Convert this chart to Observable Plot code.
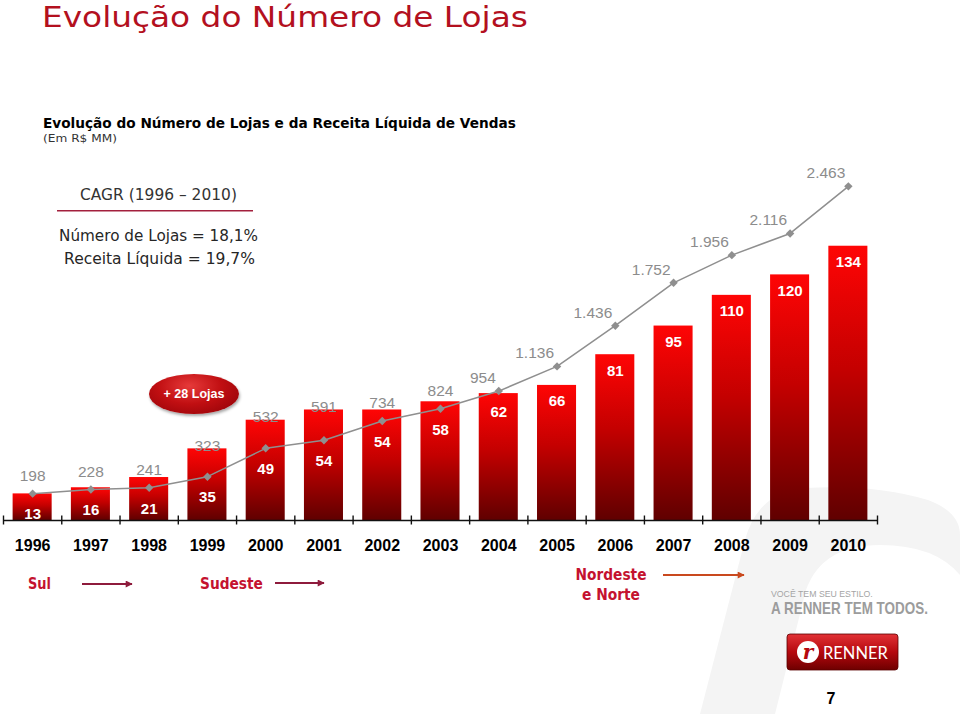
<!DOCTYPE html>
<html><head><meta charset="utf-8">
<script src="https://cdn.jsdelivr.net/npm/d3@7"></script>
<script src="https://cdn.jsdelivr.net/npm/@observablehq/plot@0.6"></script>
<style>
html,body{margin:0;padding:0;background:#fff;}
#page{position:relative;width:960px;height:714px;overflow:hidden;}
#wm,#deco{position:absolute;left:0;top:0;}
#chart{position:absolute;left:0;top:170px;}
#deco{pointer-events:none;}
#badge{position:absolute;left:149px;top:374px;width:90px;height:40px;border-radius:50%;
  background:radial-gradient(ellipse at 45% 30%, #e63a3a 0%, #c10f12 45%, #8a0006 100%);
  box-shadow:1px 2px 3px rgba(0,0,0,0.35);color:#fff;font:bold 12.5px "Liberation Sans",Arial,sans-serif;
  display:flex;align-items:center;justify-content:center;white-space:nowrap;}
#chart g[aria-label="x-axis tick label"]{font-size:16px;font-weight:bold;fill:#000;}
</style></head><body><div id="page">
<svg id="wm" width="960" height="714">
  <path d="M700,714 L745,540 Q758,492 805,488 Q875,484 928,500 Q960,512 960,535 L960,575 Q935,545 880,545 Q822,545 806,590 L775,714 Z" fill="#f4f4f4"/>
</svg>
<div id="chart"></div>
<div id="badge">+ 28 Lojas</div>
<svg id="deco" width="960" height="714"></svg>
</div>
<script>
// ---- data ----
const years   = [1996,1997,1998,1999,2000,2001,2002,2003,2004,2005,2006,2007,2008,2009,2010];
const stores  = [13,16,21,35,49,54,54,58,62,66,81,95,110,120,134];
const revenue = [198,228,241,323,532,591,734,824,954,1136,1436,1752,1956,2116,2463];
const storeAxisMax = 171;     // left (stores) axis top
const revenueAxisMax = 2580;  // right (revenue, R$ MM) axis top
const regions = ["Sul", "Sudeste", "Nordeste", "e Norte"];

// ---- layout / style ----
const W = 960, H = 400, mB = 50, mL = 3, mR = 83, mT = 0;
const pxPerStore = (H - mB - mT) / storeAxisMax;
const barHalf = 0.335;
const leftLabelFrom = 2004;
const ptBR = d3.formatLocale({decimal: ",", thousands: ".", grouping: [3], currency: ["R$", ""]});
const fmt = ptBR.format(",");

const data = years.map((year, i) => ({
  year, stores: stores[i], revenue: revenue[i],
  revS: revenue[i] * storeAxisMax / revenueAxisMax
}));
const bounds = years.map(y => y - 0.5).concat([years[years.length - 1] + 0.5]);
const u = v => v / pxPerStore; // pixels -> store units

const chart = Plot.plot({
  width: W, height: H, marginTop: mT, marginBottom: mB, marginLeft: mL, marginRight: mR,
  style: {fontFamily: "'Liberation Sans', Arial, sans-serif", background: "transparent", overflow: "visible"},
  x: {domain: [years[0] - 0.5, years[years.length - 1] + 0.5], label: null},
  y: {domain: [0, storeAxisMax], axis: null},
  marks: [
    Plot.rectY(data, {x1: d => d.year - barHalf, x2: d => d.year + barHalf, y1: 0, y2: "stores", fill: "url(#barGrad)"}),
    Plot.ruleY([0], {stroke: "#111", strokeWidth: 1.6}),
    Plot.ruleX(bounds, {x: d => d, y1: -u(4.5), y2: u(4.5), stroke: "#111", strokeWidth: 1.4}),
    Plot.axisX(years, {tickSize: 0, tickPadding: 19, tickFormat: d => String(d), fontSize: 16, fontWeight: "bold", color: "#000", label: null}),
    Plot.line(data, {x: "year", y: "revS", stroke: "#8f8f8f", strokeWidth: 1.5}),
    Plot.dot(data, {x: "year", y: "revS", symbol: "diamond2", r: 3.8, fill: "#8f8f8f", stroke: "none"}),
    Plot.text(data, {x: "year", y: d => Math.min(d.stores - u(16), d.revS - u(21)), text: d => String(d.stores),
      fill: "#fff", fontWeight: "bold", fontSize: 15}),
    Plot.text(data.filter(d => d.year < leftLabelFrom), {x: "year", y: d => Math.max(d.revS + u(18), d.stores + u(3)),
      text: d => fmt(d.revenue), fill: "#8c8c8c", fontSize: 15.5}),
    Plot.text(data.filter(d => d.year >= leftLabelFrom), {x: "year", y: d => d.revS + u(13),
      text: d => fmt(d.revenue), fill: "#8c8c8c", fontSize: 15.5, textAnchor: "end", dx: -3})
  ]
});
const defs = d3.select(chart).insert("defs", ":first-child");
const lg = defs.append("linearGradient").attr("id", "barGrad").attr("x1", 0).attr("y1", 0).attr("x2", 0).attr("y2", 1);
lg.append("stop").attr("offset", "0%").attr("stop-color", "#ff0505");
lg.append("stop").attr("offset", "45%").attr("stop-color", "#c40000");
lg.append("stop").attr("offset", "100%").attr("stop-color", "#600000");
document.getElementById("chart").appendChild(chart);

// ---- decorations / texts ----
const deco = d3.select("#deco");
const dd = deco.append("defs");
const bg = dd.append("linearGradient").attr("id", "btnGrad").attr("x1", 0).attr("y1", 0).attr("x2", 0).attr("y2", 1);
bg.append("stop").attr("offset", "0%").attr("stop-color", "#e23236");
bg.append("stop").attr("offset", "50%").attr("stop-color", "#b5080e");
bg.append("stop").attr("offset", "100%").attr("stop-color", "#6e0000");
function mk(id, color) {
  dd.append("marker").attr("id", id).attr("viewBox", "0 0 10 10").attr("refX", 9).attr("refY", 5)
    .attr("markerWidth", 9).attr("markerHeight", 7).attr("markerUnits", "userSpaceOnUse").attr("orient", "auto")
    .append("path").attr("d", "M0,0 L10,5 L0,10 Z").attr("fill", color);
}
mk("ah1", "#8e1b3c"); mk("ah2", "#c9491e");
// text helper: optionally fit to a target width by horizontal scaling about the anchor x
function txt(s, x, y, o) {
  const t = deco.append("text").attr("x", x).attr("y", y).text(s)
    .attr("font-family", o.ff || "'DejaVu Sans', sans-serif").attr("font-size", o.fs)
    .attr("fill", o.fill || "#000");
  if (o.fw) t.attr("font-weight", o.fw);
  if (o.anchor) t.attr("text-anchor", o.anchor);
  if (o.len) {
    const w = t.node().getComputedTextLength();
    if (w > 0) {
      const s = o.len / w;
      t.attr("transform", `translate(${x},${y}) scale(${s},1) translate(${-x},${-y})`);
    }
  }
  return t;
}
txt("Evolução do Número de Lojas", 42, 27.5, {fs: 29, fill: "#b3101e", len: 486});
txt("Evolução do Número de Lojas e da Receita Líquida de Vendas", 43, 128.5, {fs: 14, fw: "bold", fill: "#000", len: 473});
txt("(Em R$ MM)", 43, 142, {fs: 11, fill: "#333", len: 74});
txt("CAGR (1996 – 2010)", 158.5, 200, {fs: 15, fill: "#333", anchor: "middle", len: 157});
deco.append("line").attr("x1", 57).attr("x2", 253).attr("y1", 210.7).attr("y2", 210.7).attr("stroke", "#a3203d").attr("stroke-width", 1.5);
txt("Número de Lojas = 18,1%", 158.5, 241, {fs: 15.5, fill: "#262626", anchor: "middle", len: 199});
txt("Receita Líquida = 19,7%", 159.5, 264, {fs: 15.5, fill: "#262626", anchor: "middle", len: 191});

const red = "#c4122f";
txt(regions[0], 28, 589, {fs: 15, fw: "bold", fill: red, len: 23});
txt(regions[1], 200, 589, {fs: 15, fw: "bold", fill: red, len: 63});
txt(regions[2], 611, 580, {fs: 15, fw: "bold", fill: red, anchor: "middle", len: 71});
txt(regions[3], 611, 600, {fs: 15, fw: "bold", fill: red, anchor: "middle", len: 58});
deco.append("line").attr("x1", 82).attr("x2", 132).attr("y1", 584).attr("y2", 584).attr("stroke", "#8e1b3c").attr("stroke-width", 1.8).attr("marker-end", "url(#ah1)");
deco.append("line").attr("x1", 275).attr("x2", 324).attr("y1", 583).attr("y2", 583).attr("stroke", "#8e1b3c").attr("stroke-width", 1.8).attr("marker-end", "url(#ah1)");
deco.append("line").attr("x1", 663).attr("x2", 744).attr("y1", 575).attr("y2", 575).attr("stroke", "#c9491e").attr("stroke-width", 1.8).attr("marker-end", "url(#ah2)");

txt("VOCÊ TEM SEU ESTILO.", 771, 597, {ff: "'Liberation Sans',Arial,sans-serif", fs: 8.5, fill: "#a4a4a4", len: 102});
txt("A RENNER TEM TODOS.", 771, 614, {ff: "'Liberation Sans',Arial,sans-serif", fs: 16.5, fw: "bold", fill: "#9c9c9c", len: 157});
deco.append("rect").attr("x", 787).attr("y", 634).attr("width", 111).attr("height", 36).attr("rx", 3).attr("fill", "url(#btnGrad)").attr("stroke", "#5a0000").attr("stroke-width", 0.8);
deco.append("circle").attr("cx", 808).attr("cy", 652).attr("r", 11).attr("fill", "#fff");
txt("r", 808, 659, {ff: "'DejaVu Serif',serif", fs: 20, fw: "bold", fill: "#b5080e", anchor: "middle"}).attr("font-style", "italic");
txt("RENNER", 823, 659, {ff: "Lato, sans-serif", fs: 17, fill: "#fff", len: 65});
txt("7", 831, 703.5, {ff: "'Liberation Sans',Arial,sans-serif", fs: 16, fw: "bold", fill: "#000", anchor: "middle"});
</script>
</body></html>
